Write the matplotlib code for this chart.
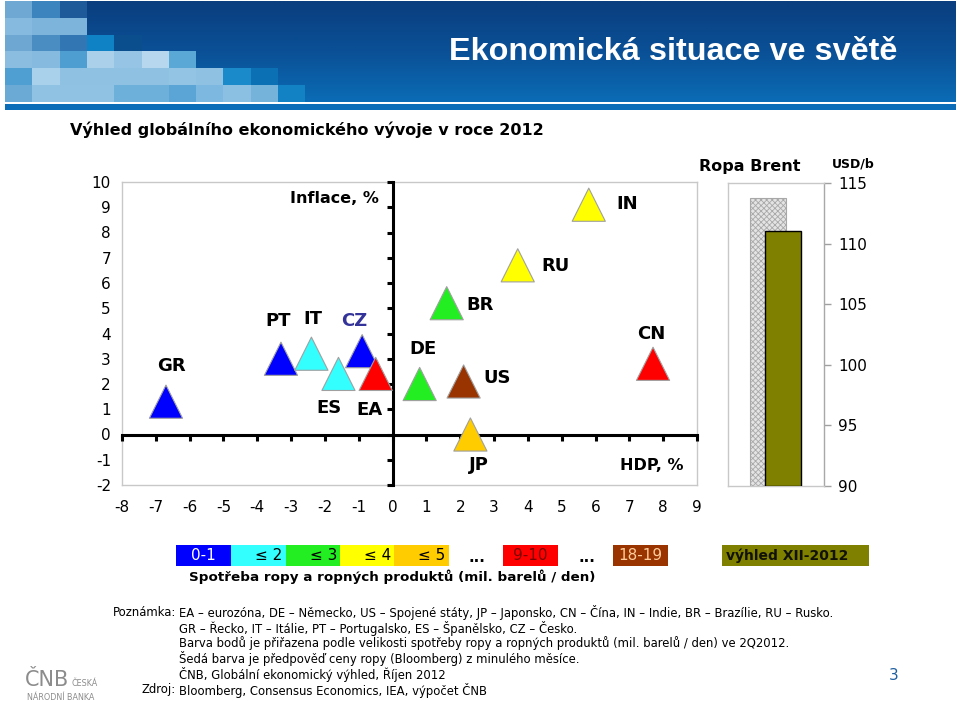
import numpy as np
import matplotlib
matplotlib.use("Agg")
import matplotlib.pyplot as plt
from matplotlib.patches import Rectangle
from matplotlib.colors import LinearSegmentedColormap

plt.rcParams['font.family'] = ['DejaVu Sans']
plt.rcParams['hatch.linewidth'] = 0.6
plt.rcParams['axes.unicode_minus'] = False

# ---- data: GDP growth vs inflation outlook 2012 ----
countries = ['GR', 'PT', 'IT', 'ES', 'CZ', 'EA', 'DE', 'US', 'JP', 'BR', 'RU', 'IN', 'CN']
gdp = [-6.7, -3.3, -2.4, -1.6, -0.9, -0.5, 0.8, 2.1, 2.3, 1.6, 3.7, 5.8, 7.7]
inflation = [1.3, 3.0, 3.2, 2.4, 3.3, 2.4, 2.0, 2.1, 0.0, 5.2, 6.7, 9.1, 2.8]
oil_use = ['0-1', '0-1', '<=2', '<=2', '0-1', '9-10', '<=3', '18-19', '<=5', '<=3', '<=4', '<=4', '9-10']

# ---- data: Brent oil price (USD/b) ----
brent_names = ['Bloomberg', 'výhled XII-2012']
brent_price = [113.8, 111.0]

# ---- legend of oil consumption classes ----
legend_keys = ['0-1', '<=2', '<=3', '<=4', '<=5', '9-10', '18-19']
legend_texts = ['0-1', '≤ 2', '≤ 3', '≤ 4', '≤ 5', '9-10', '18-19']
class_colors = {'0-1': '#0000FF', '<=2': '#33FFFF', '<=3': '#22EE22', '<=4': '#FFFF00',
                '<=5': '#FFCC00', '9-10': '#FF0000', '18-19': '#993300'}
legend_text_colors = ['white', 'black', 'black', 'black', 'black', '#7A0000', '#FFCC99']

# label positions (data coords) for country codes
label_pos = {'GR': (-6.55, 2.72), 'PT': (-3.37, 4.48), 'IT': (-2.37, 4.58), 'ES': (-1.89, 1.04),
             'CZ': (-1.15, 4.48), 'EA': (-0.69, 0.98), 'DE': (0.89, 3.38), 'US': (3.09, 2.23),
             'JP': (2.56, -1.21), 'BR': (2.59, 5.12), 'RU': (4.81, 6.67), 'IN': (6.93, 9.11),
             'CN': (7.65, 3.99)}

W, H = 960, 701
fig = plt.figure(figsize=(W / 100, H / 100), dpi=100)
fig.patch.set_facecolor('white')


def rect(x0, y0, x1, y1):
    # pixel box -> figure fraction
    return [x0 / W, 1 - y1 / H, (x1 - x0) / W, (y1 - y0) / H]


# ---- page layer (pixel coordinates) ----
pg = fig.add_axes([0, 0, 1, 1])
pg.set_xlim(0, W)
pg.set_ylim(H, 0)
pg.axis('off')

# header banner
grad = LinearSegmentedColormap.from_list('hdr', ['#0A3E7F', '#0A5096', '#0B6CB5'])
gy = np.linspace(0, 1, 100)[:, None] * np.ones((1, 200))
pg.imshow(gy, cmap=grad, extent=[5, 956, 102, 1], aspect='auto', zorder=1)

mosaic = [
    ['#6FA8D2', '#3B84BE', '#1E5A9A'],
    ['#86BADF', '#7DB4DB', '#7DB4DB'],
    ['#6DA7D2', '#4A8DC2', '#3277B3', '#0F82C6', '#0A4E8E'],
    ['#8BBDE0', '#86BADE', '#4E9ED1', '#AAD0EA', '#95C4E4', '#B6D7ED', '#5AA8D6'],
    ['#4F9FD2', '#AAD1EB', '#8FC1E2', '#8FC1E2', '#8FC1E2', '#8FC1E2', '#93C4E4', '#8FC1E2',
     '#1A8ACB', '#0C70B4'],
    ['#6AAAD5', '#8FC2E3', '#8FC2E3', '#8FC2E3', '#6DB0DA', '#6DB0DA', '#5AA5D6', '#7CB8DF',
     '#8CC0E2', '#76B3DB', '#1282C5'],
]
cw, rh = 27.3, 16.8
for r, row in enumerate(mosaic):
    for c, col in enumerate(row):
        pg.add_patch(Rectangle((5 + c * cw, 1 + r * rh), cw, rh, facecolor=col,
                               edgecolor='none', zorder=2))
pg.add_patch(Rectangle((5, 104), 951, 6, facecolor='#0B6DB8', edgecolor='none', zorder=2))

pg.text(897, 52, 'Ekonomická situace ve světě', color='white', fontsize=23.3,
        fontweight='bold', ha='right', va='center', zorder=3,
        family=['Liberation Sans', 'DejaVu Sans'])

pg.text(70, 130, 'Výhled globálního ekonomického vývoje v roce 2012', fontsize=11.5,
        fontweight='bold', ha='left', va='center')

# ---- main scatter: frame with tick labels ----
frame = fig.add_axes(rect(122, 182, 697, 485))
frame.set_xlim(-8, 9)
frame.set_ylim(-2, 10)
frame.set_xticks(range(-8, 10))
frame.set_yticks(range(-2, 11))
frame.tick_params(length=0, labelsize=11)
frame.tick_params(axis='y', pad=8)
frame.tick_params(axis='x', pad=11)
for s in frame.spines.values():
    s.set_color('#C8C8C8')
    s.set_linewidth(1)

# axes crossing at zero
ax = fig.add_axes(rect(122, 182, 697, 485), sharex=frame, sharey=frame)
ax.set_facecolor('none')
ax.spines['left'].set_position(('data', 0))
ax.spines['bottom'].set_position(('data', 0))
ax.spines['top'].set_visible(False)
ax.spines['right'].set_visible(False)
for k in ('left', 'bottom'):
    ax.spines[k].set_linewidth(2.2)
ax.tick_params(direction='out', length=4, width=2.2, labelleft=False, labelbottom=False)

ax.scatter(gdp, inflation, marker='^', s=570,
           c=[class_colors[k] for k in oil_use], edgecolors='#A0A0A0',
           linewidths=0.8, zorder=3, clip_on=False)

for name in countries:
    lx, ly = label_pos[name]
    ax.text(lx, ly, name, fontsize=13, fontweight='bold', ha='center', va='center',
            color='#333399' if name == 'CZ' else 'black', zorder=4)

ax.text(-0.4, 9.35, 'Inflace, %', fontsize=11.5, fontweight='bold', ha='right', va='center')
ax.text(8.6, -1.21, 'HDP, %', fontsize=11.5, fontweight='bold', ha='right', va='center')

# ---- Brent oil bars ----
oil = fig.add_axes(rect(728, 183, 824, 486))
oil.set_xlim(0, 1)
oil.set_ylim(90, 115)
oil.bar([0.42], [brent_price[0] - 90], bottom=90, width=0.376, color='#E4E4E4',
        edgecolor='#A8A8A8', hatch='xxxxxx', linewidth=0.8, zorder=2)
oil.bar([0.57], [brent_price[1] - 90], bottom=90, width=0.376, color='#808000',
        edgecolor='black', linewidth=1.0, zorder=3)
oil.set_xticks([])
oil.yaxis.tick_right()
oil.set_yticks(range(90, 116, 5))
oil.tick_params(axis='y', length=5, width=1, color='#A0A0A0', labelsize=11, pad=5)
for s in oil.spines.values():
    s.set_color('#C8C8C8')
    s.set_linewidth(1)
oil.spines['right'].set_color('#A8A8A8')

pg.text(750, 166, 'Ropa Brent', fontsize=11.5, fontweight='bold', ha='center', va='center')
pg.text(853, 164, 'USD/b', fontsize=9, fontweight='bold', ha='center', va='center')

# ---- colour legend ----
box_x = [176, 231, 286, 340, 394, 503, 613]
box_w = 55
for bx, key, txt, tc in zip(box_x, legend_keys, legend_texts, legend_text_colors):
    pg.add_patch(Rectangle((bx, 545), box_w, 21, facecolor=class_colors[key],
                           edgecolor='none'))
    if txt.startswith('≤'):
        pg.text(bx + box_w - 4, 556, txt, fontsize=11, color=tc, ha='right', va='center')
    else:
        pg.text(bx + box_w / 2, 556, txt, fontsize=11, color=tc, ha='center', va='center')
for dx in (477, 587):
    pg.text(dx, 557, '...', fontsize=11, fontweight='bold', ha='center', va='center')
pg.add_patch(Rectangle((722, 545), 147, 21, facecolor='#808000', edgecolor='none'))
pg.text(726, 556, brent_names[1], fontsize=10, fontweight='bold', color='#111100',
        ha='left', va='center')
pg.text(189, 577, 'Spotřeba ropy a ropných produktů (mil. barelů / den)', fontsize=9.7,
        fontweight='bold', ha='left', va='center')

# ---- notes ----
notes = [
    'EA – eurozóna, DE – Německo, US – Spojené státy, JP – Japonsko, CN – Čína, '
    'IN – Indie, BR – Brazílie, RU – Rusko.',
    'GR – Řecko, IT – Itálie, PT – Portugalsko, ES – Španělsko, CZ – Česko.',
    'Barva bodů je přiřazena podle velikosti spotřeby ropy a ropných produktů '
    '(mil. barelů / den) ve 2Q2012.',
    'Šedá barva je předpověď ceny ropy (Bloomberg) z minulého měsíce.',
    'ČNB, Globální ekonomický výhled, Říjen 2012',
]
note_y = [612, 628, 643.5, 659, 674.5]
nfs = 8.4
pg.text(176, 612, 'Poznámka:', fontsize=nfs, ha='right', va='center')
for txt, yy in zip(notes, note_y):
    pg.text(179, yy, txt, fontsize=nfs, ha='left', va='center')
pg.text(176, 690, 'Zdroj:', fontsize=nfs, ha='right', va='center')
pg.text(179, 690, 'Bloomberg, Consensus Economics, IEA, výpočet ČNB', fontsize=nfs,
        ha='left', va='center')

pg.text(894, 675, '3', fontsize=11, color='#1F5FA0', ha='center', va='center')

# ---- logo ----
pg.text(25, 686, 'ČNB', fontsize=15, color='#8C8C8C', ha='left', va='baseline')
pg.text(72, 684, 'ČESKÁ', fontsize=5.8, color='#8C8C8C', ha='left', va='center')
pg.text(27, 697, 'NÁRODNÍ BANKA', fontsize=5.8, color='#8C8C8C', ha='left', va='center')

fig.savefig('out.png', dpi=100)
